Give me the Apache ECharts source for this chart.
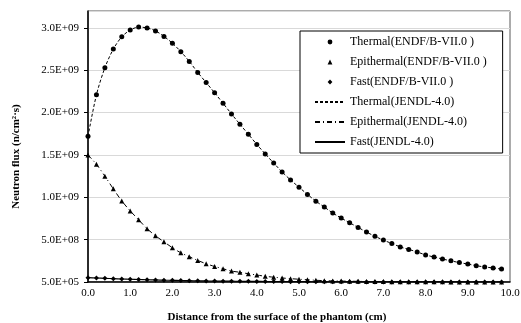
<!DOCTYPE html>
<html>
<head>
<meta charset="utf-8">
<script src="https://cdn.jsdelivr.net/npm/echarts@6/dist/echarts.min.js"></script>
<style>html,body{margin:0;padding:0;background:#fff}#c{width:521px;height:323px}</style>
</head>
<body>
<div id="c"></div>
<script>
const distance = [0.0,0.2,0.4,0.6,0.8,1.0,1.2,1.4,1.6,1.8,2.0,2.2,2.4,2.6,2.8,3.0,3.2,3.4,3.6,3.8,4.0,4.2,4.4,4.6,4.8,5.0,5.2,5.4,5.6,5.8,6.0,6.2,6.4,6.6,6.8,7.0,7.2,7.4,7.6,7.8,8.0,8.2,8.4,8.6,8.8,9.0,9.2,9.4,9.6,9.8];
const thermal = [1.72e9,2.21e9,2.53e9,2.75e9,2.895e9,2.975e9,3.01e9,3.0e9,2.965e9,2.90e9,2.82e9,2.72e9,2.605e9,2.475e9,2.355e9,2.235e9,2.11e9,1.985e9,1.863e9,1.745e9,1.625e9,1.513e9,1.405e9,1.30e9,1.205e9,1.12e9,1.035e9,0.955e9,0.885e9,0.815e9,0.755e9,0.70e9,0.645e9,0.59e9,0.54e9,0.495e9,0.455e9,0.415e9,0.385e9,0.355e9,0.32e9,0.295e9,0.272e9,0.25e9,0.23e9,0.212e9,0.193e9,0.178e9,0.166e9,0.153e9];
const epithermal = [1.50e9,1.39e9,1.25e9,1.10e9,0.958e9,0.84e9,0.735e9,0.63e9,0.546e9,0.475e9,0.405e9,0.345e9,0.30e9,0.255e9,0.216e9,0.184e9,0.157e9,0.13e9,0.115e9,0.098e9,0.083e9,0.068e9,0.057e9,0.048e9,0.040e9,0.033e9,0.027e9,0.021e9,1.6e7,1.35e7,1.15e7,9.8e6,8.4e6,7.2e6,6.2e6,5.3e6,4.6e6,4.0e6,3.5e6,3.0e6,2.6e6,2.3e6,2.0e6,1.8e6,1.6e6,1.4e6,1.25e6,1.1e6,1.0e6,0.9e6];
const fast = [5.2e7,4.8e7,4.4e7,4.0e7,3.6e7,3.3e7,3.0e7,2.7e7,2.45e7,2.2e7,2.0e7,1.8e7,1.6e7,1.45e7,1.3e7,1.2e7,1.08e7,9.7e6,8.8e6,7.9e6,7.1e6,6.4e6,5.8e6,5.2e6,4.7e6,4.2e6,3.8e6,3.4e6,3.1e6,2.8e6,2.5e6,2.3e6,2.1e6,1.9e6,1.7e6,1.55e6,1.4e6,1.3e6,1.2e6,1.1e6,1.0e6,0.95e6,0.9e6,0.85e6,0.8e6,0.75e6,0.72e6,0.68e6,0.65e6,0.62e6];
// JENDL-4.0 curves coincide with the ENDF/B-VII.0 markers in the picture
const thermalJ = thermal.slice();
const epithermalJ = epithermal.slice();
const fastJ = fast.slice();
const seriesNames = ['Thermal(ENDF/B-VII.0 )','Epithermal(ENDF/B-VII.0 )','Fast(ENDF/B-VII.0 )','Thermal(JENDL-4.0)','Epithermal(JENDL-4.0)','Fast(JENDL-4.0)'];
const xTitle = 'Distance from the surface of the phantom (cm)';
const yTitle = 'Neutron flux (n/cm²·s)';

function pairs(ys){ return distance.map((x,i)=>[x, ys[i]]); }
function expLabel(v){
  const s = v.toExponential(1);
  const m = s.split('e');
  const sign = m[1][0];
  let e = m[1].slice(1);
  if (e.length < 2) e = '0' + e;
  return m[0] + 'E' + sign + e;
}
const FONT = 'Liberation Serif';
const markerSeries = (name, ys, sym) => ({name, type:'line', data:pairs(ys), showSymbol:true, symbol:sym, symbolSize:5,
  lineStyle:{width:0, opacity:0}, itemStyle:{color:'#000'}, z:3});
const lineSeries = (name, ys, dash, w) => ({name, type:'line', data:pairs(ys), showSymbol:false, symbol:'none', smooth:0.3,
  lineStyle:{color:'#000', width:w, type:dash}, itemStyle:{color:'#000'}, z:2});
const chart = echarts.init(document.getElementById('c'), null, {renderer:'canvas'});
chart.setOption({
  animation:false,
  backgroundColor:'#fff',
  grid:{left:88,right:11,top:11,bottom:41,show:true,borderColor:'#595959',borderWidth:1,outerBoundsMode:'none',containLabel:false},
  xAxis:{type:'value',min:0,max:10,interval:1,
    name:xTitle,nameLocation:'middle',nameGap:30,
    nameTextStyle:{fontFamily:FONT,fontSize:11,fontWeight:'bold',color:'#000',padding:[0,44,0,0]},
    axisLine:{lineStyle:{color:'#000',width:1.5}},axisTick:{show:false},
    axisLabel:{fontFamily:FONT,fontSize:11,color:'#000',margin:6,formatter:v=>v.toFixed(1)},
    splitLine:{show:false}},
  yAxis:{type:'value',min:5e5,max:3.2e9,interval:5e8,
    name:yTitle,nameLocation:'middle',nameGap:66,
    nameTextStyle:{fontFamily:FONT,fontSize:11,fontWeight:'bold',color:'#000',padding:[0,20,0,0]},
    axisLine:{show:true,lineStyle:{color:'#000',width:1.5}},
    axisTick:{show:true,length:4,lineStyle:{color:'#000'}},
    axisLabel:{fontFamily:FONT,fontSize:11,color:'#000',margin:9,showMaxLabel:false,formatter:v=>expLabel(v)},
    splitLine:{show:true,lineStyle:{color:'#d9d9d9',width:1}}},
  legend:{orient:'vertical',left:300,top:31,padding:[5,16,5,14],itemGap:8,itemWidth:30,itemHeight:6,
    backgroundColor:'#fff',borderColor:'#000',borderWidth:1,borderRadius:0,
    textStyle:{fontFamily:FONT,fontSize:12,color:'#000'},
    data:[
      {name:seriesNames[0],lineStyle:{opacity:0}},
      {name:seriesNames[1],lineStyle:{opacity:0}},
      {name:seriesNames[2],lineStyle:{opacity:0}},
      {name:seriesNames[3],itemStyle:{opacity:0}},
      {name:seriesNames[4],itemStyle:{opacity:0}},
      {name:seriesNames[5],itemStyle:{opacity:0}}
    ]},
  series:[
    markerSeries(seriesNames[0], thermal, 'circle'),
    markerSeries(seriesNames[1], epithermal, 'triangle'),
    markerSeries(seriesNames[2], fast, 'diamond'),
    lineSeries(seriesNames[3], thermalJ, [3,2], 1),
    lineSeries(seriesNames[4], epithermalJ, [5,3,1,3], 1),
    lineSeries(seriesNames[5], fastJ, 'solid', 1.2)
  ]
});
</script>
</body>
</html>
